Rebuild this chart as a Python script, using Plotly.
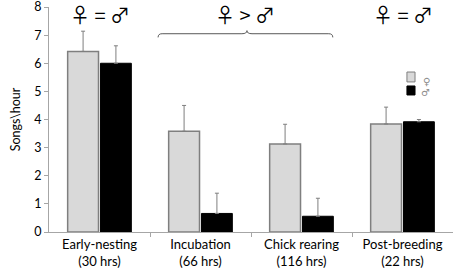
import plotly.graph_objects as go

categories = ["Early-nesting<br>(30 hrs)", "Incubation<br>(66 hrs)", "Chick rearing<br>(116 hrs)", "Post-breeding<br>(22 hrs)"]
female = [6.42, 3.58, 3.13, 3.84]
male = [6.00, 0.66, 0.56, 3.92]
female_err = [0.72, 0.92, 0.70, 0.60]
male_err = [0.62, 0.72, 0.64, 0.08]
y_ticks = [0, 1, 2, 3, 4, 5, 6, 7, 8]

xpos = list(range(len(categories)))

fig = go.Figure()
fig.add_trace(go.Bar(
    x=xpos, y=female, name="♀",
    marker=dict(color="#d9d9d9", line=dict(color="#7f7f7f", width=1.5)),
    error_y=dict(type="data", symmetric=False, array=female_err, arrayminus=[0]*4,
                 color="#7f7f7f", thickness=1, width=2),
))
fig.add_trace(go.Bar(
    x=xpos, y=male, name="♂",
    marker=dict(color="#000000", line=dict(color="#000000", width=1)),
    error_y=dict(type="data", symmetric=False, array=male_err, arrayminus=[0]*4,
                 color="#7f7f7f", thickness=1, width=2),
))

fig.update_layout(
    width=454, height=276,
    margin=dict(l=49, r=1, t=7, b=44),
    plot_bgcolor="white", paper_bgcolor="white",
    barmode="group", bargap=0.35, bargroupgap=0.06,
    font=dict(family="Lato", size=12, color="#000000"),
    showlegend=False,
    xaxis=dict(
        range=[-0.5, 3.5], tickmode="array", tickvals=xpos, ticktext=categories,
        ticks="", showline=True, linecolor="#a6a6a6", linewidth=1,
        showgrid=False, zeroline=False, tickfont=dict(size=13), automargin=False,
        minor=dict(tickvals=[0.5, 1.5, 2.5], ticks="outside", ticklen=4, tickcolor="#a6a6a6"),
    ),
    yaxis=dict(
        range=[0, 8], tickvals=y_ticks, ticks="outside", ticklen=4, tickcolor="#a6a6a6",
        showline=True, linecolor="#a6a6a6", linewidth=1, showgrid=False, zeroline=False,
        title=dict(text="Songs\\hour", standoff=10, font=dict(size=12.5)),
        tickfont=dict(size=12.5), automargin=False, ticklabeloverflow="allow",
    ),
)

sym_font = dict(family="Noto Sans CJK JP, DejaVu Sans", size=20, color="#000000")
fig.add_annotation(x=0, y=7.74, text="♀ = ♂", showarrow=False, font=sym_font)
fig.add_annotation(x=1.44, y=7.74, text="♀ > ♂", showarrow=False, font=sym_font)
fig.add_annotation(x=3.0, y=7.74, text="♀ = ♂", showarrow=False, font=sym_font)

# bracket
fig.add_shape(type="path",
              path="M 0.58,6.92 Q 0.58,7.05 0.62,7.05 L 1.41,7.05 Q 1.46,7.05 1.46,7.16 Q 1.46,7.05 1.51,7.05 L 2.27,7.05 Q 2.31,7.05 2.31,6.92",
              line=dict(color="#595959", width=1))

# manual legend
fig.add_shape(type="rect", xref="paper", yref="paper", x0=0.886, x1=0.906, y0=0.667, y1=0.711,
              fillcolor="#d9d9d9", line=dict(color="#7f7f7f", width=1))
fig.add_shape(type="rect", xref="paper", yref="paper", x0=0.886, x1=0.906, y0=0.609, y1=0.649,
              fillcolor="#000000", line=dict(color="#000000", width=1))
leg_font = dict(family="DejaVu Sans", size=10, color="#8c8c8c")
fig.add_annotation(xref="paper", yref="paper", x=0.945, y=0.699, text="♀", showarrow=False,
                   font=leg_font, borderpad=0)
fig.add_annotation(xref="paper", yref="paper", x=0.945, y=0.620, text="♂", showarrow=False,
                   font=leg_font, borderpad=0)

fig.write_html("out.html", config={"displayModeBar": False},
               post_script="document.body.style.margin='0';")
